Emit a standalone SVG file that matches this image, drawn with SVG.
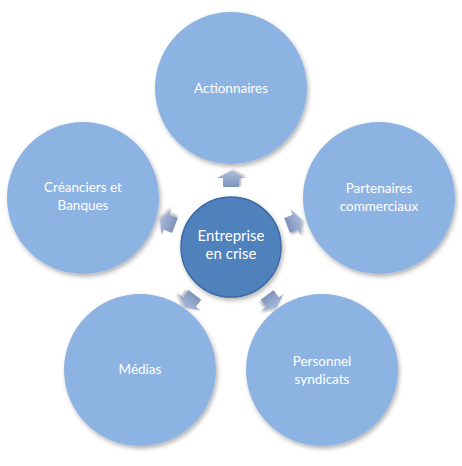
<svg xmlns="http://www.w3.org/2000/svg" width="462" height="466" viewBox="0 0 462 466">
<defs>
<filter id="sh" x="-20%" y="-20%" width="140%" height="140%">
<feDropShadow dx="1.5" dy="2.5" stdDeviation="2" flood-color="#000" flood-opacity="0.3"/>
</filter>
<filter id="ash" x="-40%" y="-40%" width="180%" height="180%">
<feDropShadow dx="1" dy="2" stdDeviation="1.2" flood-color="#000" flood-opacity="0.3"/>
</filter>
<linearGradient id="ag" x1="0" y1="0" x2="1" y2="0">
<stop offset="0" stop-color="#7f93bb"/>
<stop offset="1" stop-color="#a9bbdc"/>
</linearGradient>
<path id="arr" d="M60,-8 L69,-8 L69,-14 L76,0 L69,14 L69,8 L60,8 Z"/>
</defs>
<style>
.outer{fill:#8db3e2;filter:url(#sh)}
.center{fill:#4f81bd;stroke:#3c6aa3;stroke-width:1.5;filter:url(#sh)}
.t{font-family:Lato,"Open Sans",sans-serif;font-size:13.5px;fill:#fff;text-anchor:middle}
.tc{font-family:Lato,"Open Sans",sans-serif;font-size:15px;fill:#fff;text-anchor:middle}
.a{fill:url(#ag);filter:url(#ash)}
</style>
<rect width="462" height="466" fill="#fff"/>
<g id="connectors">
<use href="#arr" class="a" transform="translate(231,247) rotate(-90)"/>
<use href="#arr" class="a" transform="translate(231,247) rotate(-21)"/>
<use href="#arr" class="a" transform="translate(231,247) rotate(53)"/>
<use href="#arr" class="a" transform="translate(231,247) rotate(127)"/>
<use href="#arr" class="a" transform="translate(231,247) rotate(201)"/>
</g>
<g id="actionnaires">
<circle class="outer" cx="231" cy="88" r="76"/>
<text class="t" x="231" y="93">Actionnaires</text>
</g>
<g id="partenaires">
<circle class="outer" cx="379" cy="198" r="76"/>
<text class="t" x="379" y="193">Partenaires</text>
<text class="t" x="379" y="211">commerciaux</text>
</g>
<g id="personnel">
<circle class="outer" cx="322" cy="370" r="76"/>
<text class="t" x="322" y="366">Personnel</text>
<text class="t" x="322" y="384">syndicats</text>
</g>
<g id="medias">
<circle class="outer" cx="140" cy="370" r="76"/>
<text class="t" x="140" y="374">Médias</text>
</g>
<g id="creanciers">
<circle class="outer" cx="83" cy="198" r="76"/>
<text class="t" x="83" y="192">Créanciers et</text>
<text class="t" x="83" y="210">Banques</text>
</g>
<g id="entreprise">
<circle class="center" cx="231" cy="247" r="50"/>
<text class="tc" x="231" y="241">Entreprise</text>
<text class="tc" x="231" y="259">en crise</text>
</g>
</svg>
